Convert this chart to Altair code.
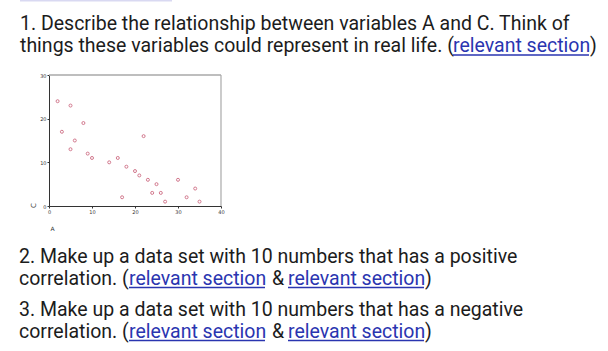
import altair as alt
import pandas as pd

# ---- scatter data (variables A and C) ----
A = [2, 5, 8, 3, 6, 5, 9, 10, 14, 16, 18, 20, 21, 22, 23, 25, 24, 26, 17, 27, 30, 32, 34, 35]
C = [24, 23, 19, 17, 15, 13, 12, 11, 10, 11, 9, 8, 7, 16, 6, 5, 3, 3, 2, 1, 6, 2, 4, 1]
x_ticks = [0, 10, 20, 30, 40]
y_ticks = [0, 10, 20, 30]
X_DOMAIN = [0, 40]
Y_DOMAIN = [0, 30]

# ---- page text ----
line1 = "1. Describe the relationship between variables A and C. Think of"
line2 = "things these variables could represent in real life. ("
link = "relevant section"
close = ")"
amp = "&"
p2_line1 = "2. Make up a data set with 10 numbers that has a positive"
p3_line1 = "3. Make up a data set with 10 numbers that has a negative"
corr = "correlation. ("

FONT = "Roboto"
FS = 19.5
BLACK = "#1c1c1c"
BLUE = "#2a35b0"

W, H = 608, 351

df = pd.DataFrame({"A": A, "C": C})

xs = alt.Scale(domain=X_DOMAIN, range=[49, 221], nice=False, zero=False)
ys = alt.Scale(domain=Y_DOMAIN, range=[206, 75], nice=False, zero=False)

points = alt.Chart(df).mark_point(
    shape="circle", filled=False, size=9, strokeWidth=1.0, color="#c0405e"
).encode(
    x=alt.X("A:Q", scale=xs, axis=alt.Axis(
        values=x_ticks, offset=-(H - 206), grid=False, labelFontSize=5,
        labelFont="DejaVu Sans", labelColor="#333", tickSize=2, tickColor="#333",
        domainColor="#333", labelPadding=1, labelFlush=False,
        title="A", titleFontSize=6, titleFontWeight="normal", titleFont="DejaVu Sans",
        titleColor="#333", titleX=50, titleY=22, titleAlign="left", titleBaseline="middle")),
    y=alt.Y("C:Q", scale=ys, axis=alt.Axis(
        values=y_ticks, offset=-49, grid=False, labelFontSize=5,
        labelFont="DejaVu Sans", labelColor="#333", tickSize=2, tickColor="#333",
        domainColor="#333", labelPadding=1, labelFlush=False,
        title="C", titleFontSize=7, titleFontWeight="normal", titleFont="DejaVu Sans",
        titleColor="#333", titleX=-16, titleY=205, titleAlign="center", titleBaseline="middle")),
)

one = pd.DataFrame({"k": [0]})
frame_top = alt.Chart(one).mark_rule(color="#a9a9a9", strokeWidth=1.5).encode(
    x=alt.datum(X_DOMAIN[0], scale=xs), x2=alt.datum(X_DOMAIN[1]), y=alt.datum(Y_DOMAIN[1], scale=ys))
frame_right = alt.Chart(one).mark_rule(color="#a9a9a9", strokeWidth=1.2).encode(
    y=alt.datum(Y_DOMAIN[0], scale=ys), y2=alt.datum(Y_DOMAIN[1]), x=alt.datum(X_DOMAIN[1], scale=xs))

layers = [frame_top, frame_right, points]


def txt(s, x, y, color=BLACK):
    return alt.Chart(pd.DataFrame({"t": [s]})).mark_text(
        align="left", baseline="alphabetic", font=FONT, fontSize=FS, color=color
    ).encode(x=alt.value(x), y=alt.value(y), text="t:N")


def underline(x0, x1, y):
    return alt.Chart(one).mark_rule(color=BLUE, strokeWidth=1.3).encode(
        x=alt.value(x0), x2=alt.value(x1), y=alt.value(y))


LINK_W = 136

# lavender bar at top edge
layers.append(alt.Chart(one).mark_rule(color="#d9d9f2", strokeWidth=3).encode(
    x=alt.value(20), x2=alt.value(172), y=alt.value(0)))

# paragraph 1
lx = 453
layers += [
    txt(line1, 20, 30),
    txt(line2, 20, 52),
    txt(link, lx, 52, BLUE), underline(lx, lx + LINK_W, 55),
    txt(close, lx + LINK_W + 1, 52),
]

# paragraphs 2 and 3
for first, b1, b2 in [(p2_line1, 263, 285), (p3_line1, 316, 338)]:
    l1 = 129
    a = l1 + LINK_W + 7
    l2 = a + 16
    layers += [
        txt(first, 19, b1),
        txt(corr, 19, b2),
        txt(link, l1, b2, BLUE), underline(l1, l1 + LINK_W, b2 + 2.5),
        txt(amp, a, b2),
        txt(link, l2, b2, BLUE), underline(l2, l2 + LINK_W, b2 + 2.5),
        txt(close, l2 + LINK_W + 1, b2),
    ]

chart = alt.layer(*layers).properties(
    width=W, height=H, autosize="none", padding=0, background="white"
).configure_view(stroke=None)

chart.save("out.html", embed_options={"renderer": "svg", "actions": False})
